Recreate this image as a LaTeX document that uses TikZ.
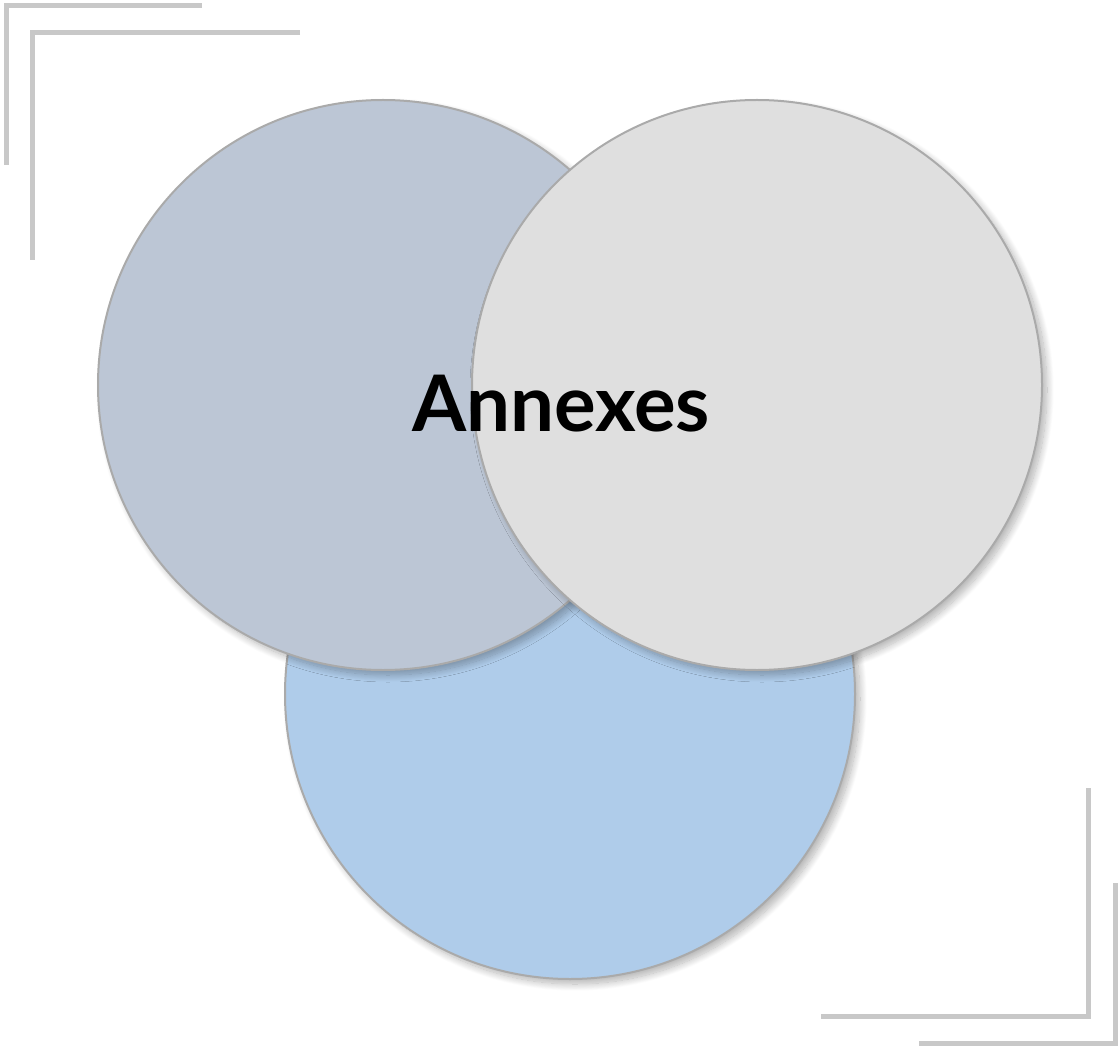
\documentclass[tikz,border=0pt]{standalone}
\usepackage{fontspec}
\setmainfont{Lato}
\usetikzlibrary{shadows, shadows.blur}
\definecolor{SlateGray}{HTML}{BCC6D5}
\definecolor{LightGray}{HTML}{DFDFDF}
\definecolor{SkyBlue}{HTML}{AFCCEA}
\definecolor{EdgeGray}{HTML}{AAAAAA}
\definecolor{FrameGray}{HTML}{C8C8C8}

\begin{document}
\begin{tikzpicture}[x=1pt, y=-1pt]
        \tikzstyle{bubble} = [circle, minimum size=570pt, inner sep=0pt, draw=EdgeGray, line width=2pt, blur shadow={shadow xshift=5pt, shadow yshift=-5pt, shadow blur radius=7pt, shadow blur steps=16, shadow opacity=30}]
        \tikzstyle{frame} = [FrameGray, line width=5pt]

        \useasboundingbox (0,0) rectangle (1119,1048);

        % Corner frames
        \draw [frame] (202,6) -- (6,6) -- (6,165);
        \draw [frame] (300,33) -- (32,33) -- (32,260);
        \draw [frame] (1088,788) -- (1088,1016) -- (821,1016);
        \draw [frame] (1115,883) -- (1115,1043) -- (919,1043);

        % Circles
        \node (bottom) [bubble, fill=SkyBlue] at (570,694) {};
        \node (left) [bubble, fill=SlateGray] at (383,385) {};
        \node (right) [bubble, fill=LightGray] at (757,385) {};

        % Title
        \node (title) at (561,404) {\fontsize{78}{90}\selectfont\bfseries Annexes};
    \end{tikzpicture}
\end{document}
